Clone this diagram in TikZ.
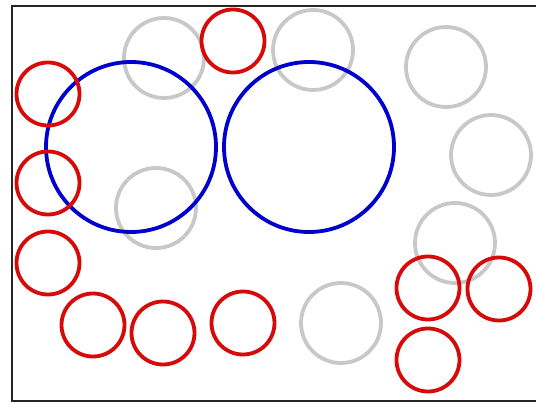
\documentclass[tikz,border=0pt]{standalone}
\usepackage{xcolor}
\usepackage{tikz}
\definecolor{ringred}{RGB}{215, 10, 10}
\definecolor{ringgray}{RGB}{200, 200, 200}
\definecolor{ringblue}{RGB}{0, 0, 205}

\begin{document}
\begin{tikzpicture}[
    x=1pt, y=-1pt,
    % ring styles
    ring/.style={circle, line width=3.8pt, inner sep=0pt, outer sep=0pt},
    redring/.style={ring, draw=ringred, minimum size=63pt},
    grayring/.style={ring, draw=ringgray, minimum size=80pt},
    bluering/.style={ring, draw=ringblue, minimum size=170pt}
]
    \useasboundingbox (0,0) rectangle (536,403);

    % --- FRAME (right side runs off the page) ---
    \draw[line width=2pt, black!85] (540,6) -- (12,6) -- (12,401) -- (540,401);

    % --- GRAY RINGS ---
    \foreach \x/\y [count=\i] in {164/58, 156/208, 313/50, 446/67, 491/155, 455/243, 341/323} {
        \node[grayring] (g\i) at (\x,\y) {};
    }

    % --- BLUE RINGS ---
    \node[bluering] (b1) at (131,147) {};
    \node[bluering] (b2) at (309,147) {};

    % --- RED RINGS ---
    \foreach \x/\y [count=\i] in {48/94, 48/183, 48/263, 93/325, 163/333, 243/323, 233/41, 428/288, 499/289, 428/360} {
        \node[redring] (r\i) at (\x,\y) {};
    }

\end{tikzpicture}
\end{document}
